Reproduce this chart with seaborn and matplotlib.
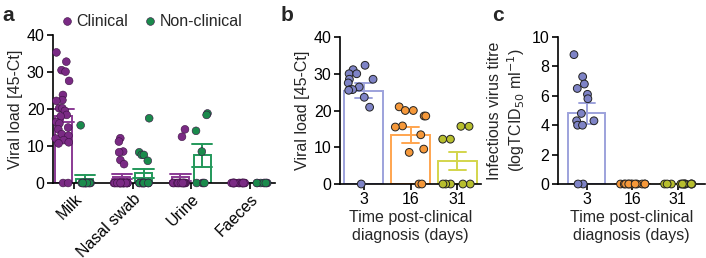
import warnings
import numpy as np
import pandas as pd
import seaborn as sns
import matplotlib.pyplot as plt

warnings.filterwarnings("ignore")
np.random.seed(7)

# panel a: viral load by sample type
SAMPLE_TYPES = ["Milk", "Nasal swab", "Urine", "Faeces"]
GROUPS = ["Clinical", "Non-clinical"]
milk_clinical = [35.3, 32.8, 30.5, 30.1, 27.6, 23.8, 22.4, 22.2, 20.2, 20.2, 19.5, 18.4,
                 18.0, 16.5, 16.1, 15.0, 14.5, 13.2, 12.8, 12.0, 11.6, 11.0, 10.7, 0, 0]
milk_nonclinical = [15.6] + [0] * 14
nasal_clinical = [12.1, 11.2, 8.5, 8.3, 6.2, 5.1] + [0] * 24
nasal_nonclinical = [17.5, 8.3, 7.6, 7.6, 6.0] + [0] * 13
urine_clinical = [14.5, 12.5] + [0] * 16
urine_nonclinical = [18.8, 18.4, 14.1, 8.5, 0, 0, 0, 0]
faeces_clinical = [0] * 18
faeces_nonclinical = [0] * 8

# panels b, c: time post-clinical diagnosis
DAYS = ["3", "16", "31"]
load_d3 = [32.3, 31.1, 30.0, 30.0, 28.5, 28.5, 27.5, 26.4, 25.7, 25.7, 25.5, 23.6, 20.9, 0]
load_d16 = [21.0, 20.0, 20.0, 18.5, 18.5, 15.8, 15.5, 13.4, 9.5, 8.6, 0, 0]
load_d31 = [15.7, 15.7, 12.2, 12.2, 0, 0, 0, 0, 0]
titre_d3 = [8.8, 7.3, 6.8, 6.5, 6.1, 5.8, 4.8, 4.3, 4.3, 4.0, 4.0, 0, 0]
titre_d16 = [0] * 12
titre_d31 = [0] * 12

A_BAR = {"Clinical": "#8A3A94", "Non-clinical": "#23985A"}
A_DOT = {"Clinical": "#7A2A84", "Non-clinical": "#1A8A4C"}
DAY_BAR = {"3": "#9DA2DC", "16": "#FFA54F", "31": "#D3D54C"}
DAY_DOT = {"3": "#7E83C6", "16": "#F5983A", "31": "#B7BE2D"}

FS = 11.5

rows = []
for st, c, n in zip(SAMPLE_TYPES,
                    [milk_clinical, nasal_clinical, urine_clinical, faeces_clinical],
                    [milk_nonclinical, nasal_nonclinical, urine_nonclinical, faeces_nonclinical]):
    rows += [(st, "Clinical", v) for v in c]
    rows += [(st, "Non-clinical", v) for v in n]
df_a = pd.DataFrame(rows, columns=["sample", "group", "load"])

df_b = pd.DataFrame([(d, v) for d, vals in zip(DAYS, [load_d3, load_d16, load_d31]) for v in vals],
                    columns=["day", "val"])
df_c = pd.DataFrame([(d, v) for d, vals in zip(DAYS, [titre_d3, titre_d16, titre_d31]) for v in vals],
                    columns=["day", "val"])

sns.set_style("ticks")
plt.rcParams["font.family"] = ["Liberation Sans", "DejaVu Sans"]
plt.rcParams["axes.linewidth"] = 1.2
plt.rcParams["xtick.major.width"] = 1.2
plt.rcParams["ytick.major.width"] = 1.2
plt.rcParams["xtick.major.size"] = 4
plt.rcParams["ytick.major.size"] = 4

fig = plt.figure(figsize=(7.06, 2.58), dpi=100)
ax_a = fig.add_axes([0.0751, 0.2907, 0.3144, 0.5736])
ax_b = fig.add_axes([0.4816, 0.2868, 0.1997, 0.5698])
ax_c = fig.add_axes([0.790, 0.2868, 0.2086, 0.5698])

# panel a
sns.barplot(data=df_a, x="sample", y="load", hue="group", order=SAMPLE_TYPES, hue_order=GROUPS,
            palette=A_BAR, fill=False, errorbar="se", capsize=0.7, width=0.74, gap=0.22,
            linewidth=1.4, err_kws={"linewidth": 1.4}, legend=False, ax=ax_a)
sns.stripplot(data=df_a, x="sample", y="load", hue="group", order=SAMPLE_TYPES, hue_order=GROUPS,
              palette=A_DOT, dodge=True, jitter=0.24, size=5.6, linewidth=0.4,
              edgecolor="#3a1040", ax=ax_a)
sns.move_legend(ax_a, "center left", bbox_to_anchor=(-0.003, 1.09), ncol=2, frameon=False,
                title=None, fontsize=FS, handletextpad=0.1, handlelength=1.0,
                columnspacing=0.9, borderaxespad=0)

# panels b, c
for ax, d in [(ax_b, df_b), (ax_c, df_c)]:
    sns.barplot(data=d, x="day", y="val", hue="day", order=DAYS, palette=DAY_BAR, fill=False,
                errorbar="se", capsize=0.35, width=0.82, linewidth=1.4,
                err_kws={"linewidth": 1.4}, legend=False, ax=ax)
    sns.stripplot(data=d, x="day", y="val", hue="day", order=DAYS, palette=DAY_DOT,
                  jitter=0.33, size=5.6, linewidth=0.7, edgecolor="#222222", legend=False, ax=ax)

for ax in [ax_a, ax_b, ax_c]:
    for coll in ax.collections:
        coll.set_clip_on(False)
        coll.set_zorder(3)
    sns.despine(ax=ax)
    ax.tick_params(labelsize=FS, colors="black", pad=2)
    ax.spines["left"].set_color("black")
    ax.spines["bottom"].set_color("black")

ax_a.set_ylim(0, 40)
ax_a.set_yticks([0, 10, 20, 30, 40])
ax_a.set_xlim(-0.36, 3.43)
ax_a.set_xlabel("")
ax_a.set_ylabel("Viral load [45-Ct]", fontsize=FS, labelpad=3)
plt.setp(ax_a.get_xticklabels(), rotation=45, ha="right", rotation_mode="anchor")

ax_b.set_ylim(0, 40)
ax_b.set_yticks([0, 10, 20, 30, 40])
ax_b.set_xlim(-0.5, 2.5)
ax_b.set_ylabel("Viral load [45-Ct]", fontsize=FS, labelpad=3)
ax_b.set_xlabel("Time post-clinical\ndiagnosis (days)", fontsize=FS, labelpad=2)

ax_c.set_ylim(0, 10)
ax_c.set_yticks([0, 2, 4, 6, 8, 10])
ax_c.set_xlim(-0.64, 2.6)
ax_c.set_ylabel("Infectious virus titre\n(logTCID$_{50}$ ml$^{-1}$)", fontsize=FS, labelpad=3)
ax_c.set_xlabel("Time post-clinical\ndiagnosis (days)", fontsize=FS, labelpad=2)

fig.text(0.004, 0.975, "a", fontsize=15, fontweight="bold", va="top")
fig.text(0.398, 0.975, "b", fontsize=15, fontweight="bold", va="top")
fig.text(0.697, 0.975, "c", fontsize=15, fontweight="bold", va="top")

fig.savefig("out.png", dpi=100)
